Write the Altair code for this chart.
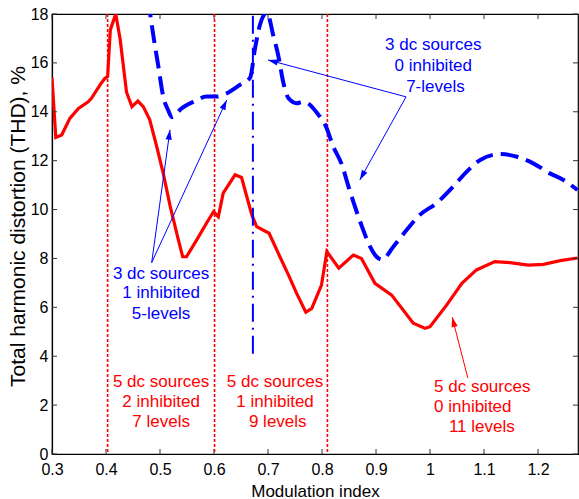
import altair as alt
import pandas as pd
import numpy as np

# ---------------- data ----------------
red_x = [0.300, 0.307, 0.318, 0.333, 0.349, 0.367, 0.373, 0.389, 0.398, 0.403,
         0.408, 0.418, 0.426, 0.438, 0.448, 0.459, 0.469, 0.481, 0.494, 0.506,
         0.519, 0.534, 0.542, 0.549, 0.568, 0.586, 0.599, 0.608, 0.617, 0.639,
         0.651, 0.670, 0.679, 0.702, 0.722, 0.738, 0.753, 0.770, 0.781, 0.799,
         0.809, 0.831, 0.858, 0.873, 0.898, 0.929, 0.969, 0.991, 1.000, 1.031,
         1.059, 1.086, 1.120, 1.148, 1.182, 1.210, 1.241, 1.273]
red_y = [15.40, 12.95, 13.05, 13.73, 14.14, 14.41, 14.55, 15.10, 15.37, 15.44,
         17.35, 18.00, 17.00, 14.80, 14.21, 14.44, 14.21, 13.67, 12.57, 11.48,
         10.12, 8.76, 8.07, 8.07, 8.76, 9.44, 9.91, 9.71, 10.67, 11.42,
         11.31, 9.78, 9.30, 9.03, 8.07, 7.32, 6.57, 5.80, 5.96, 6.91,
         8.28, 7.60, 8.14, 8.00, 6.98, 6.50, 5.35, 5.14, 5.21, 6.10,
         6.98, 7.53, 7.87, 7.83, 7.73, 7.76, 7.91, 8.02]

blue_x = [0.478, 0.488, 0.497, 0.506, 0.515, 0.522, 0.540, 0.562, 0.586, 0.605,
          0.624, 0.648, 0.667, 0.676, 0.685, 0.698, 0.710, 0.719, 0.728, 0.738,
          0.753, 0.765, 0.778, 0.790, 0.806, 0.821, 0.837, 0.849, 0.861, 0.874,
          0.889, 0.901, 0.911, 0.932, 0.957, 0.981, 1.012, 1.043, 1.068, 1.093,
          1.130, 1.161, 1.191, 1.222, 1.247, 1.273]
blue_y = [18.60, 17.07, 15.85, 14.62, 14.07, 13.78, 14.14, 14.41, 14.62, 14.62,
          14.76, 15.10, 15.40, 16.60, 17.55, 18.05, 17.10, 16.30, 15.23, 14.55,
          14.35, 14.41, 14.28, 13.97, 13.46, 12.57, 11.82, 10.94, 10.12, 9.30,
          8.48, 8.07, 7.95, 8.48, 9.17, 9.78, 10.26, 10.94, 11.55, 12.03,
          12.27, 12.16, 11.89, 11.48, 11.21, 10.80]

x_ticks = [0.3, 0.4, 0.5, 0.6, 0.7, 0.8, 0.9, 1.0, 1.1, 1.2]
y_ticks = [0, 2, 4, 6, 8, 10, 12, 14, 16, 18]

red_vlines = [0.403, 0.601, 0.810]
blue_vline = {"x": [0.672], "y": [4.1], "y2": [18.0]}

# annotation arrows: start -> end (data coordinates)
arrow_x1 = [0.9556, 0.9556, 0.4846, 0.4846, 1.070]
arrow_y1 = [14.61, 14.61, 7.83, 7.83, 3.11]
arrow_x2 = [0.700, 0.870, 0.5185, 0.6235, 1.041]
arrow_y2 = [16.12, 11.21, 13.26, 14.48, 5.60]
arrow_col = ["#0000FF", "#0000FF", "#0000FF", "#0000FF", "#FF0000"]

# annotation text lines
lab_c_text = ["3 dc sources", "0 inhibited", "7-levels",
              "3 dc sources", "1 inhibited", "5-levels",
              "5 dc sources", "2 inhibited", "7 levels",
              "5 dc sources", "1 inhibited", "9 levels"]
lab_c_x = [1.006, 1.006, 1.010,
           0.502, 0.502, 0.502,
           0.502, 0.502, 0.502,
           0.713, 0.713, 0.718]
lab_c_y = [16.73, 15.88, 15.02,
           7.36, 6.57, 5.73,
           2.95, 2.13, 1.31,
           2.95, 2.13, 1.31]
lab_c_col = ["#0000FF"] * 6 + ["#FF0000"] * 6

lab_l_text = ["5 dc sources", "0 inhibited", "11 levels"]
lab_l_x = [1.0074, 1.0074, 1.035]
lab_l_y = [2.74, 1.92, 1.10]
lab_l_col = ["#FF0000"] * 3

# ---------------- layout ----------------
W, H = 526, 440
XDOM = [0.3, 1.274]
YDOM = [0, 18]
FONT = "Liberation Sans"
SX = W / (XDOM[1] - XDOM[0])
SY = H / (YDOM[1] - YDOM[0])

xs = alt.Scale(domain=XDOM, nice=False, zero=False)
ys = alt.Scale(domain=YDOM, nice=False, zero=False)

red_df = pd.DataFrame({"x": red_x, "y": red_y})
blue_df = pd.DataFrame({"x": blue_x, "y": blue_y})
vl_df = pd.DataFrame({"x": red_vlines})
bv_df = pd.DataFrame(blue_vline)

ar_df = pd.DataFrame({"x": arrow_x1, "y": arrow_y1, "x2": arrow_x2,
                      "y2": arrow_y2, "c": arrow_col})
dx = (ar_df["x2"] - ar_df["x"]) * SX
dy = (ar_df["y2"] - ar_df["y"]) * SY
ar_df["ang"] = (np.degrees(np.arctan2(dx, dy)) + 360) % 360

lc_df = pd.DataFrame({"x": lab_c_x, "y": lab_c_y, "t": lab_c_text, "c": lab_c_col})
ll_df = pd.DataFrame({"x": lab_l_x, "y": lab_l_y, "t": lab_l_text, "c": lab_l_col})
xt_df = pd.DataFrame({"x": x_ticks})
yt_df = pd.DataFrame({"y": y_ticks})

x_axis = alt.Axis(values=x_ticks, format="~g", ticks=False, grid=False,
                  labelFlush=False, labelOverlap=False, labelPadding=7,
                  labelFont=FONT, labelFontSize=16, labelColor="black",
                  domainColor="black", domainWidth=1.2,
                  title="Modulation index", titleFont=FONT, titleFontSize=17,
                  titleFontWeight="normal", titleColor="black",
                  titleX=W / 2, titleY=42, titleAlign="center",
                  titleBaseline="alphabetic")
y_axis = alt.Axis(values=y_ticks, format="d", ticks=False, grid=False,
                  labelPadding=4, labelFont=FONT, labelFontSize=16,
                  labelColor="black", domainColor="black", domainWidth=1.2,
                  title="Total harmonic distortion (THD), %", titleFont=FONT,
                  titleFontSize=21, titleFontWeight="normal", titleColor="black",
                  titleX=-34, titleY=212, titleAngle=270, titleAlign="center",
                  titleBaseline="middle")

X = lambda f: alt.X(f, scale=xs)
Y = lambda f: alt.Y(f, scale=ys)

red_line = alt.Chart(red_df).mark_line(color="#FF0000", strokeWidth=3.2, clip=True).encode(
    x=alt.X("x:Q", scale=xs, axis=x_axis),
    y=alt.Y("y:Q", scale=ys, axis=y_axis),
)

blue_line = alt.Chart(blue_df).mark_line(color="#0000FF", strokeWidth=4,
                                         strokeDash=[18, 8], clip=True,
                                         interpolate="monotone").encode(
    x=X("x:Q"), y=Y("y:Q"),
)

red_v = alt.Chart(vl_df).mark_rule(color="#FF0000", strokeWidth=1.6,
                                   strokeDash=[3, 2]).encode(
    x=X("x:Q"), y=alt.value(0), y2=alt.value(H),
)

blue_v = alt.Chart(bv_df).mark_rule(color="#0000FF", strokeWidth=2,
                                    strokeDash=[18, 6, 2, 6]).encode(
    x=X("x:Q"), y=Y("y:Q"), y2="y2:Q",
)

arr_lines = alt.Chart(ar_df).mark_rule(strokeWidth=1).encode(
    x=X("x:Q"), y=Y("y:Q"), x2="x2:Q", y2="y2:Q",
    color=alt.Color("c:N", scale=None),
)

arr_heads = alt.Chart(ar_df).mark_point(shape="M0,0L-0.7,2.2L0.7,2.2Z",
                                         filled=True, size=81, opacity=1,
                                         strokeWidth=0).encode(
    x=X("x2:Q"), y=Y("y2:Q"),
    angle=alt.Angle("ang:Q", scale=None),
    color=alt.Color("c:N", scale=None),
)

txt_c = alt.Chart(lc_df).mark_text(font=FONT, fontSize=17, align="center",
                                    baseline="middle").encode(
    x=X("x:Q"), y=Y("y:Q"), text="t:N",
    color=alt.Color("c:N", scale=None),
)
txt_l = alt.Chart(ll_df).mark_text(font=FONT, fontSize=17, align="left",
                                    baseline="middle").encode(
    x=X("x:Q"), y=Y("y:Q"), text="t:N",
    color=alt.Color("c:N", scale=None),
)

tick_col = "#333333"
tb = alt.Chart(xt_df).mark_rule(color=tick_col, strokeWidth=1).encode(
    x=X("x:Q"), y=alt.value(H), y2=alt.value(H - 5))
tt = alt.Chart(xt_df).mark_rule(color=tick_col, strokeWidth=1).encode(
    x=X("x:Q"), y=alt.value(0), y2=alt.value(5))
tl = alt.Chart(yt_df).mark_rule(color=tick_col, strokeWidth=1).encode(
    y=Y("y:Q"), x=alt.value(0), x2=alt.value(5))
tr = alt.Chart(yt_df).mark_rule(color=tick_col, strokeWidth=1).encode(
    y=Y("y:Q"), x=alt.value(W), x2=alt.value(W - 5))

chart = alt.layer(
    red_line, tb, tt, tl, tr, red_v, blue_v, blue_line,
    arr_lines, arr_heads, txt_c, txt_l,
).properties(
    width=W, height=H,
    autosize=alt.AutoSizeParams(type="none"),
    padding={"left": 52, "top": 14, "right": 1, "bottom": 45},
).configure_view(stroke="black", strokeWidth=1.2)

chart.save("out.html", embed_options={"renderer": "svg", "actions": False})
